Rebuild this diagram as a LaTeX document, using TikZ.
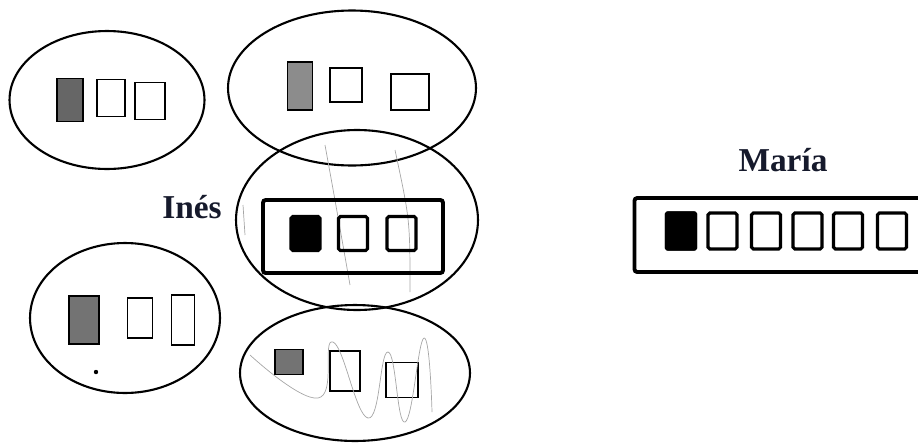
\documentclass[tikz,border=0pt]{standalone}
\usepackage{fontspec}
\setmainfont{Liberation Serif}
\usetikzlibrary{shapes.geometric}
\definecolor{ink}{HTML}{161A2C}
\tikzstyle{ring}=[shape=ellipse, draw, line width=1.2pt, inner sep=0]
\tikzstyle{hsq}=[shape=rectangle, draw, line width=.9pt, inner sep=0]
\tikzstyle{frame}=[shape=rectangle, draw, line width=2.2pt, inner sep=0, rounded corners=1.5pt]
\tikzstyle{bx}=[shape=rectangle, draw, line width=1.8pt, inner sep=0, minimum width=.58cm, minimum height=.68cm, rounded corners=1pt]
\tikzstyle{lbl}=[text=ink, font=\bfseries\fontsize{19}{20}\selectfont]
\tikzstyle{pencil}=[black!35, line width=.4pt]

\begin{document}
\begin{tikzpicture}[x=.02cm, y=-.02cm]
\useasboundingbox (0,0) rectangle (918,443);
% loops drawn by the child
\node at (107,100)[ring, minimum width=3.9cm, minimum height=2.76cm](a){};
\node at (352,88)[ring, minimum width=4.96cm, minimum height=3.1cm](b){};
\node at (357,220)[ring, minimum width=4.84cm, minimum height=3.6cm](c){};
\node at (125,318)[ring, minimum width=3.8cm, minimum height=3.0cm](d){};
\node at (355,373)[ring, minimum width=4.6cm, minimum height=2.72cm](e){};
% squares inside the loops
\node at (70,100)[hsq, fill=black!60, minimum width=.52cm, minimum height=.86cm](a1){};
\node at (111,98)[hsq, minimum width=.56cm, minimum height=.74cm](a2){};
\node at (150,101)[hsq, minimum width=.6cm, minimum height=.74cm](a3){};
\node at (300,86)[hsq, fill=black!45, minimum width=.5cm, minimum height=.96cm](b1){};
\node at (346,85)[hsq, minimum width=.64cm, minimum height=.68cm](b2){};
\node at (410,92)[hsq, minimum width=.76cm, minimum height=.72cm](b3){};
\node at (84,320)[hsq, fill=black!55, minimum width=.6cm, minimum height=.96cm](d1){};
\node at (140,318)[hsq, minimum width=.5cm, minimum height=.8cm](d2){};
\node at (183,320)[hsq, minimum width=.46cm, minimum height=1cm](d3){};
\node at (289,362)[hsq, fill=black!55, minimum width=.56cm, minimum height=.5cm](e1){};
\node at (345,371)[hsq, minimum width=.6cm, minimum height=.8cm](e2){};
\node at (402,380)[hsq, minimum width=.64cm, minimum height=.7cm](e3){};
\fill (96,372) circle (2.2);
% pencil strokes
\draw[pencil] (325,145) .. controls (335,200) .. (350,285);
\draw[pencil] (395,150) .. controls (410,220) .. (410,292);
\draw[pencil] (243,205) -- (245,235);
\draw[pencil] plot[smooth, tension=.8] coordinates {(250,355) (318,398) (333,342) (368,418) (388,352) (405,422) (424,338) (432,412)};
% Inés
\node at (192,207)[lbl](ines){Inés};
\node at (353,236.5)[frame, minimum width=3.6cm, minimum height=1.46cm](r){};
\node at (305.5,233.5)[bx, fill=black](r1){};
\node at (353,233.5)[bx](r2){};
\node at (401.5,233.5)[bx](r3){};
% María
\node at (783,160)[lbl](maria){María};
\node at (782,235)[frame, minimum width=5.9cm, minimum height=1.48cm](m){};
\foreach \x [count=\i] in {681,722.5,766,807.5,848,892}
  {\node at (\x,231)[bx, minimum height=.72cm](m\i){};}
\fill[rounded corners=1pt] (m1.north west) rectangle (m1.south east);
\end{tikzpicture}
\end{document}
